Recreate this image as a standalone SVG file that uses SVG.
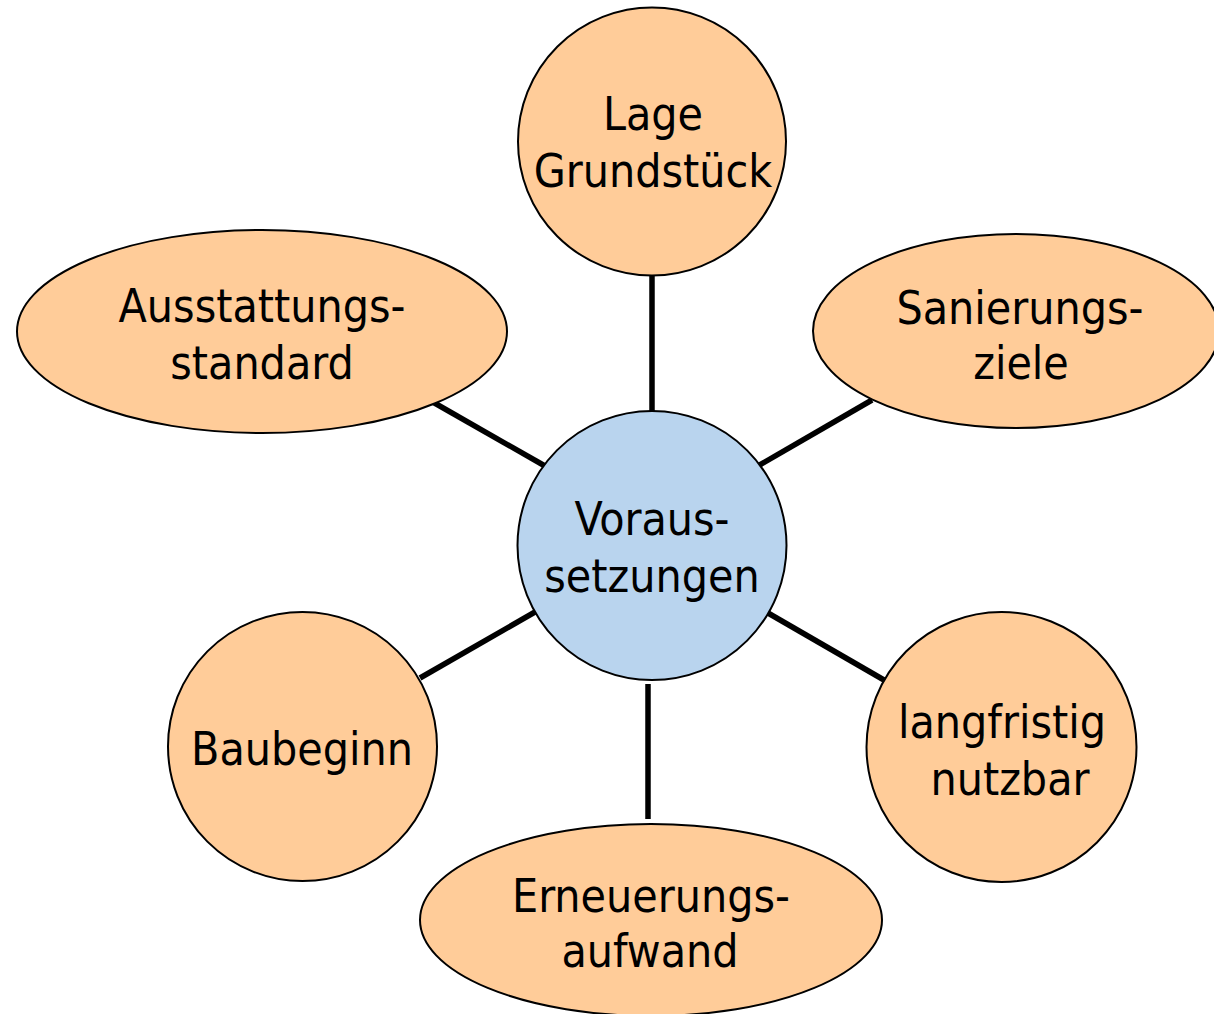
<svg xmlns="http://www.w3.org/2000/svg" width="1214" height="1014" viewBox="0 0 1214 1014">
<style>
.n{fill:#FFCC99;stroke:#000;stroke-width:2}
.c{fill:#B9D4EE;stroke:#000;stroke-width:2}
.t{font-family:"DejaVu Sans Condensed","DejaVu Sans",sans-serif;font-size:46px;fill:#000;text-anchor:middle}
.e{stroke:#000;stroke-width:5.5;fill:none}
</style>
<rect width="1214" height="1014" fill="#fff"/>
<g id="connectors">
<line class="e" x1="652" y1="276" x2="652" y2="411"/>
<line class="e" x1="431" y1="401" x2="545" y2="466"/>
<line class="e" x1="872" y1="400" x2="758" y2="466"/>
<line class="e" x1="420" y1="678" x2="535" y2="612"/>
<line class="e" x1="884" y1="680" x2="768" y2="613"/>
<line class="e" x1="648" y1="684" x2="648" y2="819"/>
</g>
<g id="lage">
<circle class="n" cx="652" cy="141.5" r="134"/>
<text class="t" x="653" y="130">Lage</text>
<text class="t" x="653" y="187">Grundstück</text>
</g>
<g id="ausstattung">
<ellipse class="n" cx="262" cy="331.5" rx="245" ry="101.5"/>
<text class="t" x="262" y="322">Ausstattungs-</text>
<text class="t" x="262" y="379">standard</text>
</g>
<g id="sanierung">
<ellipse class="n" cx="1016" cy="331" rx="203" ry="97"/>
<text class="t" x="1020" y="324">Sanierungs-</text>
<text class="t" x="1021" y="379">ziele</text>
</g>
<g id="voraussetzungen">
<circle class="c" cx="652" cy="545.5" r="134.5"/>
<text class="t" x="652" y="535">Voraus-</text>
<text class="t" x="652" y="592">setzungen</text>
</g>
<g id="baubeginn">
<circle class="n" cx="302.5" cy="746.5" r="134.5"/>
<text class="t" x="302" y="765">Baubeginn</text>
</g>
<g id="langfristig">
<circle class="n" cx="1001.5" cy="747" r="135"/>
<text class="t" x="1002" y="738">langfristig</text>
<text class="t" x="1010" y="795">nutzbar</text>
</g>
<g id="erneuerung">
<ellipse class="n" cx="651" cy="920" rx="231" ry="96"/>
<text class="t" x="651" y="912">Erneuerungs-</text>
<text class="t" x="650" y="967">aufwand</text>
</g>
</svg>
